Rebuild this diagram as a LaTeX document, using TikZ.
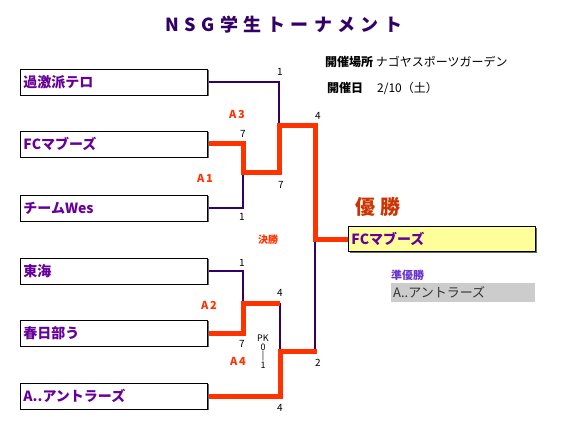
\documentclass[tikz,border=0pt]{standalone}
\usepackage{fontspec}
\setmainfont{Noto Sans CJK JP}
\newfontfamily\spacedfont[LetterSpace=30]{Noto Sans CJK JP}
\newfontfamily\labelfont[LetterSpace=15]{Noto Sans CJK JP}
\usetikzlibrary{shadows}

\definecolor{titlepurple}{RGB}{51,0,102}
\definecolor{teampurple}{RGB}{102,0,153}
\definecolor{linepurple}{RGB}{51,0,102}
\definecolor{winred}{RGB}{255,51,0}
\definecolor{champred}{RGB}{204,51,0}
\definecolor{champfill}{RGB}{255,255,153}
\definecolor{runnerfill}{RGB}{204,204,204}
\definecolor{runnertext}{RGB}{51,51,51}
\definecolor{subpurple}{RGB}{102,51,204}

\tikzset{
    team/.style={draw=black, line width=0.9pt, fill=white, anchor=west,
        minimum width=187pt, minimum height=26pt, inner xsep=3pt,
        text width=181pt, align=left, text=teampurple,
        font=\fontsize{14}{16}\selectfont\bfseries,
        drop shadow={shadow xshift=1.4pt, shadow yshift=-1.4pt, fill=black!60, opacity=1}},
    champbox/.style={team, fill=champfill},
    winline/.style={draw=winred, line width=5pt, line join=miter},
    loseline/.style={draw=linepurple, line width=1.3pt},
    score/.style={font=\fontsize{10}{11}\selectfont, inner sep=0pt},
    matchlabel/.style={font=\labelfont\fontsize{11}{12}\selectfont\bfseries, text=winred, inner sep=0pt},
}

\begin{document}
\begin{tikzpicture}[x=1pt, y=-1pt]
    \useasboundingbox (0,0) rectangle (567,422);

    \node[font=\spacedfont\fontsize{18}{20}\selectfont\bfseries, text=titlepurple] (title) at (284,25) {NSG学生トーナメント};

    % venue and date
    \node[anchor=west, font=\fontsize{12}{14}\selectfont, inner sep=0pt] (venue) at (325,62) {{\bfseries 開催場所} ナゴヤスポーツガーデン};
    \node[anchor=west, font=\fontsize{12}{14}\selectfont\bfseries, inner sep=0pt] (datelabel) at (327,88) {開催日};
    \node[anchor=west, font=\fontsize{12}{14}\selectfont, inner sep=0pt] (date) at (377,88) {2/10（土）};

    % junctions
    \coordinate (a1) at (243,173);
    \coordinate (a3) at (279,126);
    \coordinate (final) at (315,239);
    \coordinate (a2) at (243,303);
    \coordinate (a2r) at (280,303);
    \coordinate (a4) at (280,351);
    \coordinate (a4r) at (317,351);

    % thin lines first, red winners over them
    \draw[loseline] (207,82) -| (a3);
    \draw[loseline] (207,208) -| (a1);
    \draw[loseline] (207,271) -| (a2);
    \draw[loseline] (a2r) -- (a4);
    \draw[loseline] (final) -- (final |- a4r);

    \draw[winline] (207,144) -| (a1) -| (a3) -| (final) -- (348,239);
    \draw[winline] (207,333) -| (a2) -- (a2r);
    \draw[winline] (207,396) -| (a4) -- (a4r);

    % teams
    \node[team] (kageki) at (20,82) {過激派テロ};
    \node[team] (fc) at (20,144) {FCマブーズ};
    \node[team] (wes) at (20,208) {チームWes};
    \node[team] (tokai) at (20,271) {東海};
    \node[team] (kasukabe) at (20,333) {春日部う};
    \node[team] (antlers) at (20,396) {A..アントラーズ};

    \node[champbox, minimum height=25pt] (champ) at (348,239) {FCマブーズ};

    % scores
    \node[score] (s1) at (280,72) {1};
    \node[score] (s2) at (243,134) {7};
    \node[score] (s3) at (318,116) {4};
    \node[score] (s4) at (281,185) {7};
    \node[score] (s5) at (242,217) {1};
    \node[score] (s6) at (242,263) {1};
    \node[score] (s7) at (280,293) {4};
    \node[score] (s8) at (242,344) {7};
    \node[score] (s9) at (318,363) {2};
    \node[score] (s10) at (280,408) {4};
    \node[score, align=center, font=\fontsize{9}{8.5}\selectfont] (pk) at (263,352) {PK\\0\\|\\1};

    % match labels
    \node[matchlabel] (la3) at (237,114) {A3};
    \node[matchlabel] (la1) at (205,178) {A1};
    \node[matchlabel] (la2) at (209,305) {A2};
    \node[matchlabel] (la4) at (238,361) {A4};
    \node[matchlabel, font=\fontsize{10}{12}\selectfont\bfseries] (lfinal) at (268,240) {決勝};

    % result
    \node[font=\fontsize{20}{22}\selectfont\bfseries, text=champred] (win) at (378,207) {優\hspace{5pt}勝};
    \node[font=\fontsize{11}{12}\selectfont\bfseries, text=subpurple, anchor=west, inner sep=0pt] (sub) at (391,275) {準優勝};
    \node[fill=runnerfill, anchor=west, minimum width=144pt, minimum height=17pt, inner xsep=2pt,
        text width=140pt, align=left, text=runnertext, font=\fontsize{13}{15}\selectfont] (runner) at (391,292.5) {A..アントラーズ};
\end{tikzpicture}
\end{document}
